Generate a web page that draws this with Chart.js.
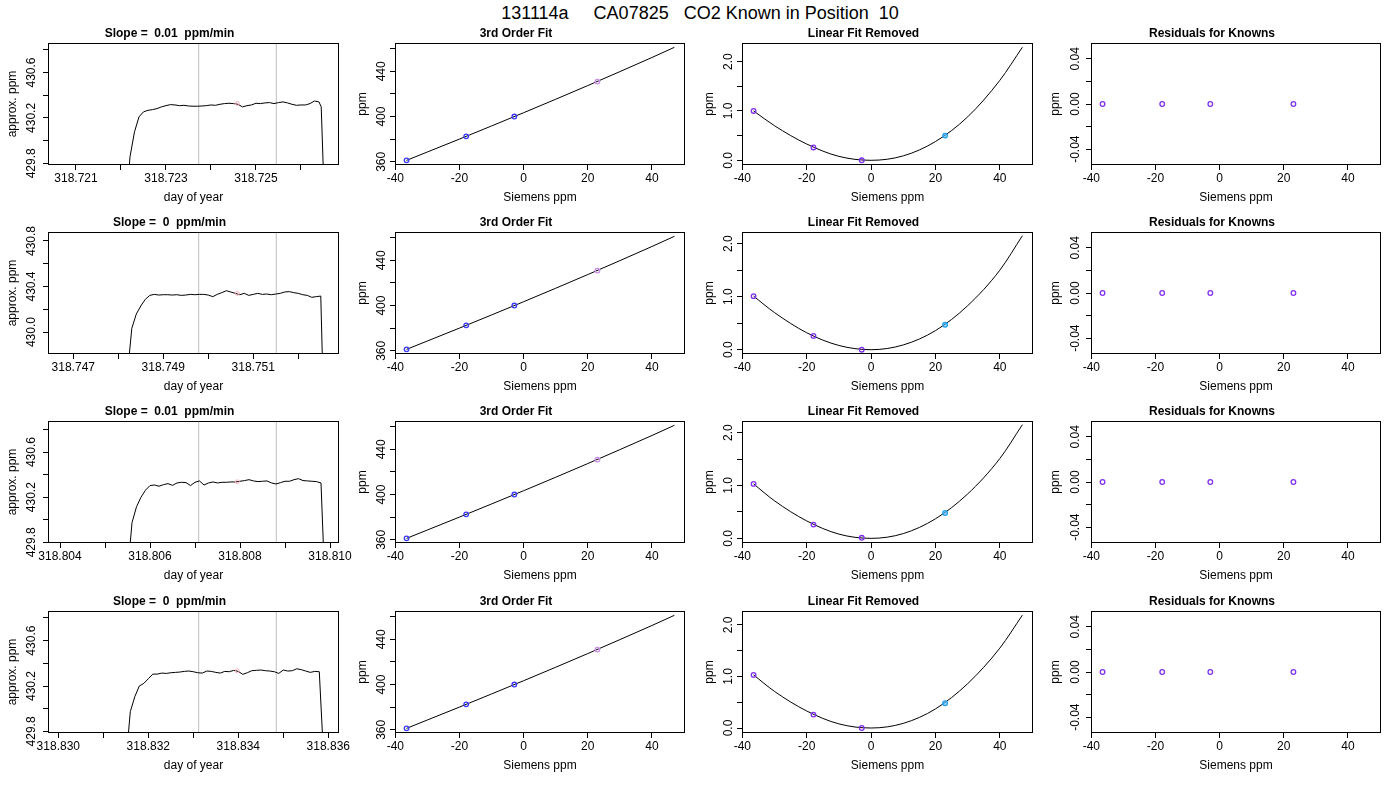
<!DOCTYPE html>
<html lang="en">
<head>
    <meta charset="UTF-8">
    <title>131114a CA07825 CO2 Known in Position 10</title>
    <style>
        body {
            margin: 0;
            width: 1400px;
            height: 800px;
            position: relative;
            overflow: hidden;
            background: #fff;
            font-family: "Liberation Sans", Arial, Helvetica, sans-serif;
        }
        .main-title {
            position: absolute;
            left: 0;
            top: 4px;
            width: 1400px;
            text-align: center;
            font-size: 18px;
            line-height: 18px;
            white-space: pre;
            color: #000;
        }
        canvas {
            position: absolute;
        }
    </style>
</head>
<body>
    <div class="main-title">131114a     CA07825   CO2 Known in Position  10</div>

    <script src="https://cdn.jsdelivr.net/npm/chart.js@4/dist/chart.umd.min.js"></script>
    <script>
        // ---- column 1: analyzer trace, one per row ----
        const slopeTitles = ['Slope =  0.01  ppm/min', 'Slope =  0  ppm/min', 'Slope =  0.01  ppm/min', 'Slope =  0  ppm/min'];

        const trace1Day = [318.72217, 318.7222, 318.7223, 318.7224, 318.7225, 318.7226, 318.7227, 318.7228, 318.7229, 318.7230,
            318.7231, 318.7232, 318.7233, 318.7234, 318.7235, 318.7236, 318.7237, 318.7238, 318.7239, 318.7240,
            318.7241, 318.7242, 318.7243, 318.7244, 318.7245, 318.7246, 318.7247, 318.7248, 318.7249, 318.7250,
            318.7251, 318.7252, 318.7253, 318.7254, 318.7255, 318.7256, 318.7257, 318.7258, 318.7259, 318.7260,
            318.7261, 318.7262, 318.7263, 318.7264, 318.72645, 318.7265];
        const trace1Ppm = [429.7, 429.857, 430.077, 430.209, 430.253, 430.267, 430.273, 430.282, 430.297, 430.308,
            430.317, 430.314, 430.308, 430.311, 430.305, 430.303, 430.303, 430.305, 430.308, 430.314,
            430.311, 430.320, 430.326, 430.329, 430.326, 430.320, 430.297, 430.308, 430.314, 430.329,
            430.326, 430.332, 430.335, 430.326, 430.335, 430.341, 430.332, 430.320, 430.311, 430.314,
            430.314, 430.326, 430.349, 430.341, 430.297, 429.7];

        const trace2Day = [318.74822, 318.7483, 318.7484, 318.7485, 318.7486, 318.7487, 318.7488, 318.7489, 318.7490, 318.7491,
            318.7492, 318.7493, 318.7494, 318.7495, 318.7496, 318.7497, 318.7498, 318.7499, 318.7500, 318.7501,
            318.7502, 318.7503, 318.7504, 318.7505, 318.7506, 318.7507, 318.7508, 318.7509, 318.7510, 318.7511,
            318.7512, 318.7513, 318.7514, 318.7515, 318.7516, 318.7517, 318.7518, 318.7519, 318.7520, 318.7521,
            318.7522, 318.7523, 318.7524, 318.7525, 318.75254];
        const trace2Ppm = [429.7, 430.032, 430.158, 430.229, 430.287, 430.322, 430.331, 430.325, 430.328, 430.328,
            430.325, 430.328, 430.322, 430.325, 430.331, 430.328, 430.331, 430.331, 430.325, 430.311,
            430.331, 430.346, 430.363, 430.352, 430.340, 430.328, 430.340, 430.322, 430.331, 430.340,
            430.331, 430.334, 430.328, 430.334, 430.340, 430.352, 430.355, 430.346, 430.340, 430.328,
            430.322, 430.305, 430.311, 430.316, 429.7];

        const trace3Day = [318.80554, 318.8056, 318.8057, 318.8058, 318.8059, 318.8060, 318.8061, 318.8062, 318.8063, 318.8064,
            318.8065, 318.8066, 318.8067, 318.8068, 318.8069, 318.8070, 318.8071, 318.8072, 318.8073, 318.8074,
            318.8075, 318.8076, 318.8077, 318.8078, 318.8079, 318.8080, 318.8081, 318.8082, 318.8083, 318.8084,
            318.8085, 318.8086, 318.8087, 318.8088, 318.8089, 318.8090, 318.8091, 318.8092, 318.8093, 318.8094,
            318.8095, 318.8096, 318.8097, 318.8098, 318.80986];
        const trace3Ppm = [429.7, 429.974, 430.115, 430.200, 430.262, 430.303, 430.308, 430.297, 430.311, 430.320,
            430.305, 430.326, 430.332, 430.329, 430.303, 430.332, 430.344, 430.308, 430.326, 430.335,
            430.326, 430.332, 430.332, 430.335, 430.335, 430.341, 430.347, 430.355, 430.344, 430.338,
            430.341, 430.344, 430.326, 430.317, 430.329, 430.341, 430.341, 430.355, 430.364, 430.347,
            430.344, 430.341, 430.338, 430.326, 429.7];

        const trace4Day = [318.83154, 318.8316, 318.8317, 318.8318, 318.8319, 318.8320, 318.8321, 318.8322, 318.8323, 318.8324,
            318.8325, 318.8326, 318.8327, 318.8328, 318.8329, 318.8330, 318.8331, 318.8332, 318.8333, 318.8334,
            318.8335, 318.8336, 318.8337, 318.8338, 318.8339, 318.8340, 318.8341, 318.8342, 318.8343, 318.8344,
            318.8345, 318.8346, 318.8347, 318.8348, 318.8349, 318.8350, 318.8351, 318.8352, 318.8353, 318.8354,
            318.8355, 318.8356, 318.8357, 318.8358, 318.83588];
        const trace4Ppm = [429.7, 429.974, 430.106, 430.200, 430.223, 430.264, 430.305, 430.305, 430.314, 430.311,
            430.317, 430.320, 430.323, 430.329, 430.332, 430.326, 430.317, 430.314, 430.332, 430.329,
            430.320, 430.314, 430.329, 430.326, 430.338, 430.329, 430.303, 430.317, 430.335, 430.338,
            430.341, 430.335, 430.332, 430.326, 430.311, 430.341, 430.332, 430.335, 430.352, 430.344,
            430.332, 430.320, 430.329, 430.326, 429.7];

        const traceDays = [trace1Day, trace2Day, trace3Day, trace4Day];
        const tracePpms = [trace1Ppm, trace2Ppm, trace3Ppm, trace4Ppm];

        // averaging window markers and the mean point
        const windowDays = [[318.723727, 318.725451], [318.749787, 318.751511], [318.807082, 318.808807], [318.833120, 318.834844]];
        const meanDay = [318.724585, 318.750645, 318.807940, 318.833978];
        const meanPpm = [430.327, 430.340, 430.336, 430.334];

        const dayRange = [[318.720378, 318.726845], [318.746438, 318.752905], [318.803733, 318.810200], [318.829771, 318.836238]];
        const dayTicks = [
            [318.721, 318.722, 318.723, 318.724, 318.725, 318.726],
            [318.747, 318.748, 318.749, 318.750, 318.751, 318.752],
            [318.804, 318.805, 318.806, 318.807, 318.808, 318.809, 318.810],
            [318.830, 318.831, 318.832, 318.833, 318.834, 318.835, 318.836]
        ];
        const dayLabels = [
            ['318.721', '', '318.723', '', '318.725', ''],
            ['318.747', '', '318.749', '', '318.751', ''],
            ['318.804', '', '318.806', '', '318.808', '', '318.810'],
            ['318.830', '', '318.832', '', '318.834', '', '318.836']
        ];
        const traceRange = [[429.785, 430.860], [429.807, 430.879], [429.794, 430.875], [429.786, 430.861]];
        const traceTicks = [
            [429.8, 430.0, 430.2, 430.4, 430.6, 430.8],
            [430.0, 430.2, 430.4, 430.6, 430.8],
            [429.8, 430.0, 430.2, 430.4, 430.6, 430.8],
            [429.8, 430.0, 430.2, 430.4, 430.6, 430.8]
        ];
        const traceLabels = [
            ['429.8', '', '430.2', '', '430.6', ''],
            ['430.0', '', '430.4', '', '430.8'],
            ['429.8', '', '430.2', '', '430.6', ''],
            ['429.8', '', '430.2', '', '430.6', '']
        ];

        // ---- knowns: Siemens reading vs assigned value ----
        const siemens = [-36.5, -17.9, -2.9, 23.0];
        const assigned = [361.3, 382.5, 400.0, 430.9];
        const fitX = [-36.5, -30, -20, -10, 0, 10, 20, 30, 40, 47];
        const fitPpm = [361.3, 368.7, 380.1, 391.7, 403.4, 415.3, 427.4, 439.7, 452.2, 461.2];
        const fitRange = [357.2, 465.0];
        const fitTicks = [360, 380, 400, 420, 440, 460];
        const fitLabels = ['360', '', '400', '', '440', ''];

        const removedPts = [[1.00, 0.26, 0.00, 0.50], [1.01, 0.26, 0.00, 0.47], [1.03, 0.26, 0.01, 0.48], [1.03, 0.26, 0.00, 0.48]];
        const removedCurve = [
            [1.00, 0.70, 0.33, 0.08, 0.00, 0.09, 0.38, 0.88, 1.62, 2.29],
            [1.01, 0.70, 0.32, 0.08, 0.00, 0.09, 0.36, 0.83, 1.50, 2.15],
            [1.03, 0.71, 0.33, 0.08, 0.00, 0.09, 0.37, 0.84, 1.51, 2.15],
            [1.03, 0.71, 0.33, 0.08, 0.00, 0.09, 0.37, 0.86, 1.55, 2.19]
        ];
        const removedRange = [[-0.095, 2.376], [-0.081, 2.22], [-0.088, 2.22], [-0.097, 2.27]];
        const removedTicks = [0, 0.5, 1.0, 1.5, 2.0];
        const removedLabels = ['0.0', '', '1.0', '', '2.0'];

        const residuals = [[0, 0, 0, 0], [0, 0, 0, 0], [0, 0, 0, 0], [0, 0, 0, 0]];
        const residRange = [-0.054, 0.054];
        const residTicks = [-0.04, -0.02, 0, 0.02, 0.04];
        const residLabels = ['-0.04', '', '0.00', '', '0.04'];

        const siemensRange = [-40.1, 50.3];
        const siemensTicks = [-40, -20, 0, 20, 40];
        const siemensLabels = ['-40', '-20', '0', '20', '40'];

        // ---- layout ----
        const colLeft = [48, 395, 742, 1091];
        const colWidth = [291, 290, 291, 290];
        const rowTop = [43, 232, 421, 611];
        const boxHeight = 122;
        const yTickGap = [16, 13.5, 13, 15];
        const yTitleGap = [35.5, 32.5, 32, 35];
        const TOP = 26, LEFT = 48, BOTTOM = 45, RIGHT = 22, TICK = 5;

        const FAMILY = '"Liberation Sans", Arial, Helvetica, sans-serif';
        Chart.defaults.font.family = FAMILY;
        Chart.defaults.font.size = 12;
        Chart.defaults.color = '#000';

        const measurer = document.createElement('canvas').getContext('2d');
        measurer.font = 'normal 12px ' + FAMILY;
        function widest(labels) {
            return Math.max(...labels.map(l => measurer.measureText(l).width));
        }

        // R style full box round the plot region
        const boxPlugin = {
            id: 'rbox',
            afterDraw(chart) {
                const a = chart.chartArea;
                const c = chart.ctx;
                c.save();
                c.strokeStyle = '#000';
                c.lineWidth = 1;
                c.strokeRect(Math.round(a.left) + 0.5, Math.round(a.top) + 0.5,
                    Math.round(a.right - a.left) - 1, Math.round(a.bottom - a.top) - 1);
                c.restore();
            }
        };

        function line(xs, ys, color, extra) {
            return Object.assign({
                data: xs.map((x, i) => ({ x: x, y: ys[i] })),
                showLine: true,
                borderColor: color,
                borderWidth: 1,
                pointRadius: 0,
                fill: false
            }, extra || {});
        }

        function dots(xs, ys, colors, extra) {
            return Object.assign({
                data: xs.map((x, i) => ({ x: x, y: ys[i] })),
                showLine: false,
                pointRadius: 2.3,
                pointBorderWidth: 1.3,
                pointBorderColor: colors,
                pointBackgroundColor: 'rgba(0,0,0,0)'
            }, extra || {});
        }

        function makePanel(row, col, p) {
            const canvas = document.createElement('canvas');
            const w = LEFT + colWidth[col] + RIGHT;
            const h = TOP + boxHeight + BOTTOM;
            canvas.width = w;
            canvas.height = h;
            canvas.style.width = w + 'px';
            canvas.style.height = h + 'px';
            canvas.style.left = (colLeft[col] - LEFT) + 'px';
            canvas.style.top = (rowTop[row] - TOP) + 'px';
            document.body.appendChild(canvas);

            const yPad = yTickGap[col] - TICK - widest(p.yLabels) / 2;

            return new Chart(canvas, {
                type: 'scatter',
                data: { datasets: p.datasets },
                options: {
                    responsive: false,
                    animation: false,
                    events: [],
                    layout: { padding: { left: 0, top: 0, right: RIGHT, bottom: 0 } },
                    plugins: {
                        legend: { display: false },
                        tooltip: { enabled: false },
                        title: {
                            display: true,
                            text: p.title,
                            color: '#000',
                            font: { size: 12, weight: 'bold' },
                            padding: { top: 9.8, bottom: 1.8 }
                        }
                    },
                    scales: {
                        x: {
                            type: 'linear',
                            bounds: 'data',
                            min: p.xRange[0],
                            max: p.xRange[1],
                            afterBuildTicks: s => { s.ticks = p.xTicks.map(v => ({ value: v })); },
                            afterFit: s => { s.height = BOTTOM; },
                            ticks: {
                                autoSkip: false,
                                minRotation: 0,
                                maxRotation: 0,
                                padding: 1,
                                color: '#000',
                                callback: (v, i) => p.xLabels[i]
                            },
                            grid: { drawOnChartArea: false, drawTicks: true, tickLength: TICK, color: '#000', lineWidth: 1 },
                            border: { display: false },
                            title: { display: true, text: p.xTitle, color: '#000', padding: { top: 0, bottom: 5.3 } }
                        },
                        y: {
                            type: 'linear',
                            bounds: 'data',
                            min: p.yRange[0],
                            max: p.yRange[1],
                            afterBuildTicks: s => { s.ticks = p.yTicks.map(v => ({ value: v })); },
                            afterFit: s => { s.width = LEFT; },
                            ticks: {
                                autoSkip: false,
                                minRotation: 90,
                                maxRotation: 90,
                                crossAlign: 'center',
                                padding: yPad,
                                color: '#000',
                                callback: (v, i) => p.yLabels[i]
                            },
                            grid: { drawOnChartArea: false, drawTicks: true, tickLength: TICK, color: '#000', lineWidth: 1 },
                            border: { display: false },
                            title: { display: true, text: p.yTitle, color: '#000', padding: { top: LEFT - yTitleGap[col] - 7.2, bottom: 0 } }
                        }
                    }
                },
                plugins: [boxPlugin]
            });
        }

        for (let r = 0; r < 4; r++) {
            const yr = traceRange[r];
            // column 1: trace with averaging window
            makePanel(r, 0, {
                title: slopeTitles[r],
                xTitle: 'day of year',
                yTitle: 'approx. ppm',
                xRange: dayRange[r], xTicks: dayTicks[r], xLabels: dayLabels[r],
                yRange: yr, yTicks: traceTicks[r], yLabels: traceLabels[r],
                datasets: [
                    dots([meanDay[r]], [meanPpm[r]], '#ffb0c0', { pointRadius: 2, pointBorderWidth: 1 }),
                    line(traceDays[r], tracePpms[r], '#000'),
                    line([windowDays[r][0], windowDays[r][0]], yr, '#bebebe'),
                    line([windowDays[r][1], windowDays[r][1]], yr, '#bebebe')
                ]
            });

            // column 2: 3rd order fit
            makePanel(r, 1, {
                title: '3rd Order Fit',
                xTitle: 'Siemens ppm',
                yTitle: 'ppm',
                xRange: siemensRange, xTicks: siemensTicks, xLabels: siemensLabels,
                yRange: fitRange, yTicks: fitTicks, yLabels: fitLabels,
                datasets: [
                    dots(siemens, assigned, ['#3a3aff', '#3a3aff', '#3a3aff', '#c98de6']),
                    line(fitX, fitPpm, '#000', { cubicInterpolationMode: 'monotone' })
                ]
            });

            // column 3: linear fit removed
            makePanel(r, 2, {
                title: 'Linear Fit Removed',
                xTitle: 'Siemens ppm',
                yTitle: 'ppm',
                xRange: siemensRange, xTicks: siemensTicks, xLabels: siemensLabels,
                yRange: removedRange[r], yTicks: removedTicks, yLabels: removedLabels,
                datasets: [
                    dots(siemens, removedPts[r], ['#7f2ef0', '#7f2ef0', '#7f2ef0', '#1ea0f0'], {
                        pointBackgroundColor: ['rgba(0,0,0,0)', 'rgba(0,0,0,0)', 'rgba(0,0,0,0)', 'rgba(90,190,255,0.6)']
                    }),
                    line(fitX, removedCurve[r], '#000', { cubicInterpolationMode: 'monotone' })
                ]
            });

            // column 4: residuals
            makePanel(r, 3, {
                title: 'Residuals for Knowns',
                xTitle: 'Siemens ppm',
                yTitle: 'ppm',
                xRange: siemensRange, xTicks: siemensTicks, xLabels: siemensLabels,
                yRange: residRange, yTicks: residTicks, yLabels: residLabels,
                datasets: [
                    dots(siemens, residuals[r], '#8030f0')
                ]
            });
        }
    </script>
</body>
</html>
